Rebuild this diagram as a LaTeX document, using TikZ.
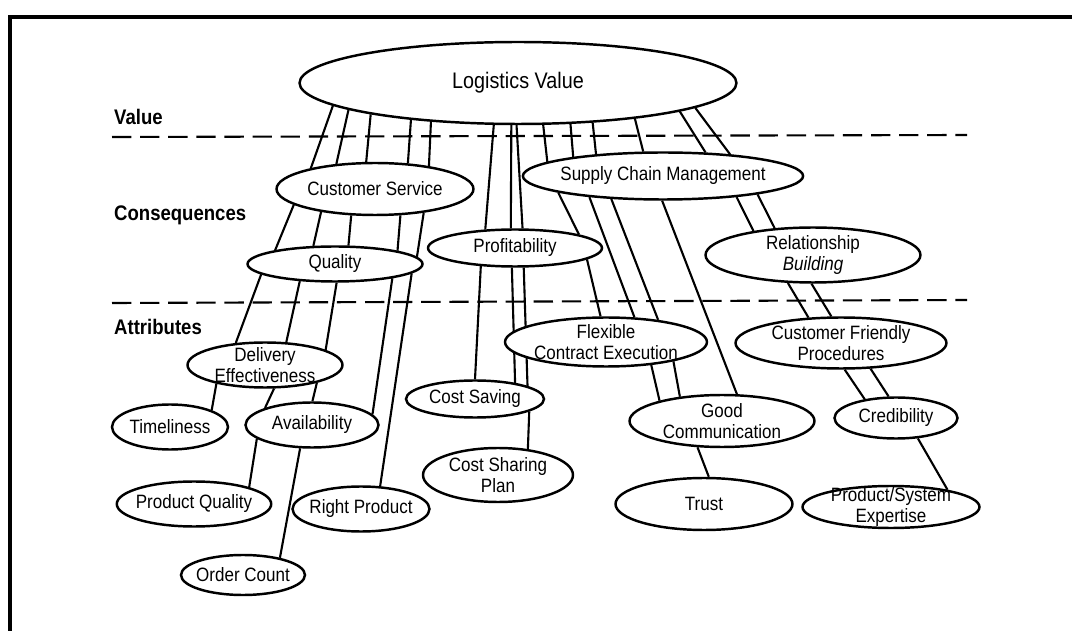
\documentclass[tikz,border=0pt]{standalone}
\usepackage{fontspec}
\setmainfont{Liberation Sans}[FakeStretch=0.88]
\usetikzlibrary{shapes.geometric,backgrounds}

\tikzset{
  bubble/.style={ellipse, draw, fill=white, line width=1.4pt, inner xsep=-2pt, inner ysep=-6pt, align=center},
  link/.style={line width=1.2pt},
  divider/.style={line width=1.2pt, dash pattern=on 11pt off 5pt},
  level/.style={anchor=west, font=\fontsize{12}{12}\selectfont\bfseries}
}

\begin{document}
\begin{tikzpicture}[x=0.02cm, y=-0.02cm, font=\fontsize{11}{11.5}\selectfont]
\useasboundingbox (0,0) rectangle (1072,631);

% --- Frame ---
\draw[line width=2.4pt] (10,631) -- (10,17) -- (1072,17);

% --- Levels ---
\node[level] (lvalue) at (108,117) {Value};
\node[level] (lcons) at (108,215) {Consequences};
\node[level] (lattr) at (108,327) {Attributes};
\draw[divider] (112,137) -- (967,135);
\draw[divider] (112,303) -- (967,300);

% --- Value ---
\node[bubble, minimum width=8.74cm, minimum height=1.64cm, font=\fontsize{12.8}{13}\selectfont] (lv) at (518,83) {Logistics Value};

% --- Consequences ---
\node[bubble, minimum width=3.94cm, minimum height=1.04cm] (cs) at (375,189) {Customer Service};
\node[bubble, minimum width=3.5cm, minimum height=0.7cm] (ql) at (335,264) {Quality};
\node[bubble, minimum width=3.48cm, minimum height=0.74cm] (pf) at (515,248) {Profitability};
\node[bubble, minimum width=5.2cm, minimum height=0.94cm] (scm) at (663,176) {Supply Chain Management};
\node[bubble, minimum width=4.3cm, minimum height=1.1cm] (rb) at (813,255) {Relationship\\\textit{Building}};

% --- Attributes ---
\node[bubble, minimum width=3.1cm, minimum height=0.9cm] (de) at (265,365) {Delivery\\Effectiveness};
\node[bubble, minimum width=2.32cm, minimum height=0.9cm] (tm) at (170,427) {Timeliness};
\node[bubble, minimum width=2.66cm, minimum height=0.9cm] (av) at (312,425) {Availability};
\node[bubble, minimum width=2.74cm, minimum height=0.9cm] (pq) at (194,504) {Product Quality};
\node[bubble, minimum width=2.74cm, minimum height=0.9cm] (rp) at (361,509) {Right Product};
\node[bubble, minimum width=2.48cm, minimum height=0.8cm] (oc) at (243,575) {Order Count};
\node[bubble, minimum width=2.76cm, minimum height=0.74cm] (sav) at (475,399) {Cost Saving};
\node[bubble, minimum width=3.0cm, minimum height=1.08cm] (csp) at (498,475) {Cost Sharing\\Plan};
\node[bubble, minimum width=4.04cm, minimum height=0.98cm] (fce) at (606,342) {Flexible\\Contract Execution};
\node[bubble, minimum width=4.22cm, minimum height=1.02cm] (cfp) at (841,343) {Customer Friendly\\Procedures};
\node[bubble, minimum width=3.7cm, minimum height=1.04cm] (gc) at (722,421) {Good\\Communication};
\node[bubble, minimum width=2.46cm, minimum height=0.82cm] (cr) at (896,418) {Credibility};
\node[bubble, minimum width=3.54cm, minimum height=1.04cm] (tr) at (704,504) {Trust};
\node[bubble, minimum width=3.54cm, minimum height=0.84cm] (pse) at (891,507) {Product/System\\Expertise};

% --- Ladders ---
\begin{scope}[on background layer]
% customer service branch
\foreach \a/\b in {lv.187/cs.162, lv.189/cs.147, lv.192/cs.108, lv.199/cs.38, lv.204/cs.23,
                   cs.191/ql.167, cs.203/ql.140, cs.228/ql.54, cs.314/ql.12, cs.334/ql.5,
                   ql.188/de.143, ql.206/de.47, ql.275/de.14, ql.346/av.10, ql.353/rp.50,
                   de.201/tm.22, de.291/av.160, de.341/av.89,
                   av.194/pq.17, av.243/oc.25}
  \draw[link] (\a) -- (\b);
% profitability branch
\foreach \a/\b in {lv.240/pf.148, lv.261/pf.102, lv.268/pf.69,
                   pf.208/sav.90, pf.261/sav.22, pf.294/sav.14, sav.347/csp.41}
  \draw[link] (\a) -- (\b);
% supply chain branch
\foreach \a/\b in {lv.301/scm.173, lv.322/scm.168, lv.332/scm.162, lv.343/scm.129, lv.350/scm.29, lv.352/scm.18,
                   scm.189/pf.12, pf.351/fce.102, scm.196/fce.41, scm.204/fce.23, scm.268/gc.61,
                   fce.333/gc.162, fce.344/gc.150, gc.227/tr.80,
                   scm.344/rb.158, scm.349/rb.145, rb.228/cfp.142, rb.267/cfp.110,
                   cfp.278/cr.149, cfp.319/cr.109, cr.317/pse.17}
  \draw[link] (\a) -- (\b);
\end{scope}

\end{tikzpicture}
\end{document}
